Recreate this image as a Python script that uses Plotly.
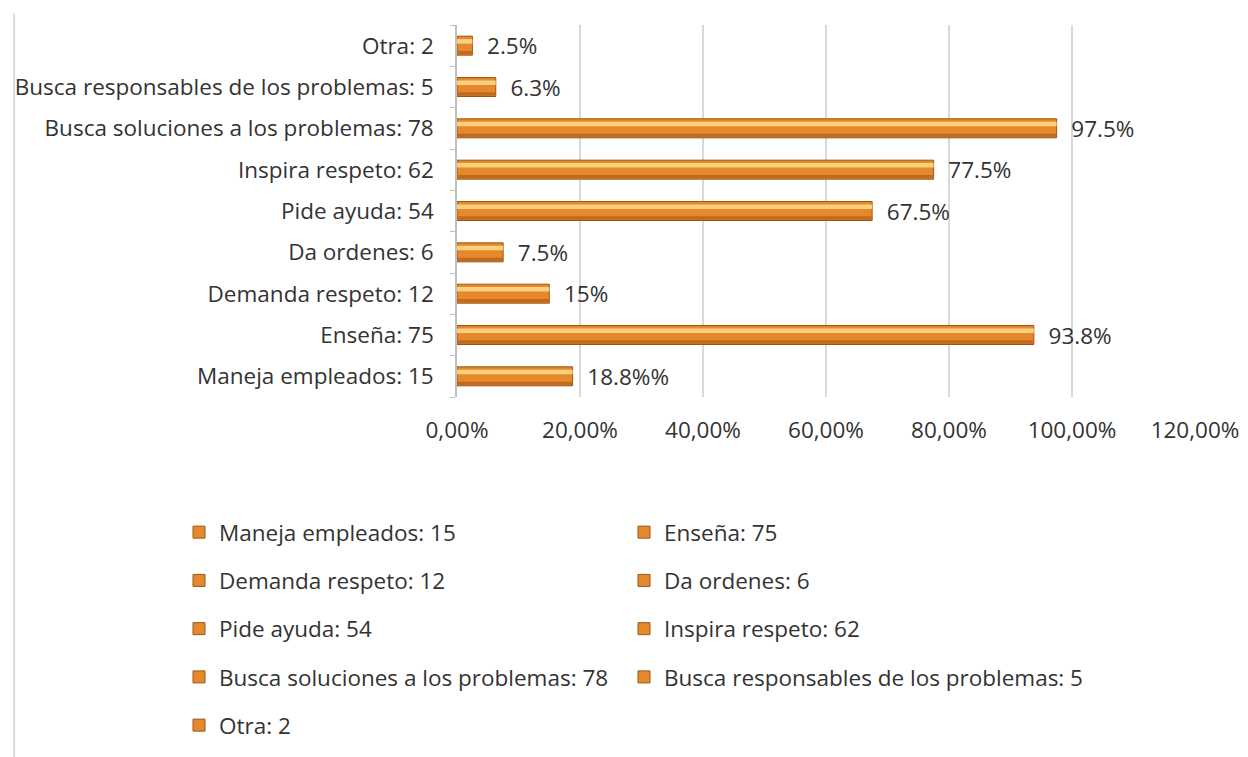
import plotly.graph_objects as go

# Datos (de abajo hacia arriba, como en el gráfico)
categorias = [
    "Maneja empleados: 15",
    "Enseña: 75",
    "Demanda respeto: 12",
    "Da ordenes: 6",
    "Pide ayuda: 54",
    "Inspira respeto: 62",
    "Busca soluciones a los problemas: 78",
    "Busca responsables de los problemas: 5",
    "Otra: 2",
]
porcentajes = [0.188, 0.938, 0.15, 0.075, 0.675, 0.775, 0.975, 0.063, 0.025]
etiquetas = ["18.8%%", "93.8%", "15%", "7.5%", "67.5%", "77.5%", "97.5%", "6.3%", "2.5%"]

FUENTE = "Open Sans, Noto Sans, sans-serif"
TEXTO = "#333333"
NARANJA = "#E5892C"
BORDE = "#9C5514"
BRILLO = "#FAD07C"
SOMBRA = "#BF6A1E"
TAM = 22.5

fig = go.Figure()

for i, (cat, val, lab) in enumerate(zip(categorias, porcentajes, etiquetas)):
    # barra principal (una serie por categoría, como en Excel)
    fig.add_trace(go.Bar(
        y=[cat], x=[val], orientation="h", name=cat,
        legend="legend" if i % 2 == 0 else "legend2",
        legendgroup=cat,
        width=0.46, offset=-0.23,
        marker=dict(color=NARANJA, line=dict(color=BORDE, width=1)),
        text=["\u00a0\u00a0" + lab], textposition="outside",
        constraintext="none",
        textfont=dict(family=FUENTE, size=TAM, color=TEXTO),
        cliponaxis=False,
    ))
    # reflejo claro y sombra inferior para imitar el relieve
    fig.add_trace(go.Bar(
        y=[cat], x=[val], orientation="h", showlegend=False,
        width=0.11, offset=0.05,
        marker=dict(color=BRILLO, line=dict(width=0)),
        hoverinfo="skip",
    ))
    fig.add_trace(go.Bar(
        y=[cat], x=[val], orientation="h", showlegend=False,
        width=0.08, offset=-0.21,
        marker=dict(color=SOMBRA, line=dict(width=0)),
        hoverinfo="skip",
    ))

leyenda = dict(
    orientation="v", xref="container", yref="container",
    xanchor="left", yanchor="top", y=0.3355,
    traceorder="grouped", tracegroupgap=16,
    font=dict(family=FUENTE, size=TAM, color=TEXTO),
    bgcolor="rgba(0,0,0,0)",
)

# la página añade 8 px de margen al cuerpo: márgenes compensados
fig.update_layout(
    width=1248, height=757,
    barmode="overlay",
    separators=",.",
    paper_bgcolor="white", plot_bgcolor="white",
    margin=dict(l=449, r=61, t=17, b=368, autoexpand=False),
    font=dict(family=FUENTE, color=TEXTO, size=TAM),
    legend=dict(leyenda, x=171 / 1248),
    legend2=dict(leyenda, x=616 / 1248),
    shapes=[dict(
        type="line", xref="paper", yref="paper",
        x0=-0.6, x1=-0.6, y0=1.03, y1=-1.05,
        line=dict(color="#d9d9d9", width=2),
    )],
)

fig.update_xaxes(
    range=[0, 1.2], dtick=0.2, tickformat=".2%",
    showgrid=True, gridcolor="#d9d9d9", gridwidth=1.5,
    zeroline=False, showline=False,
    ticklabelstandoff=17,
    tickfont=dict(family=FUENTE, size=TAM, color=TEXTO),
)
fig.update_yaxes(
    type="category", categoryorder="array", categoryarray=categorias,
    showline=True, linecolor="#bfbfbf", linewidth=1.5,
    ticks="outside", tickson="boundaries", ticklen=5, tickcolor="#bfbfbf",
    showgrid=False, ticklabelstandoff=17,
    tickfont=dict(family=FUENTE, size=TAM, color=TEXTO),
)

fig.write_html("out.html")
